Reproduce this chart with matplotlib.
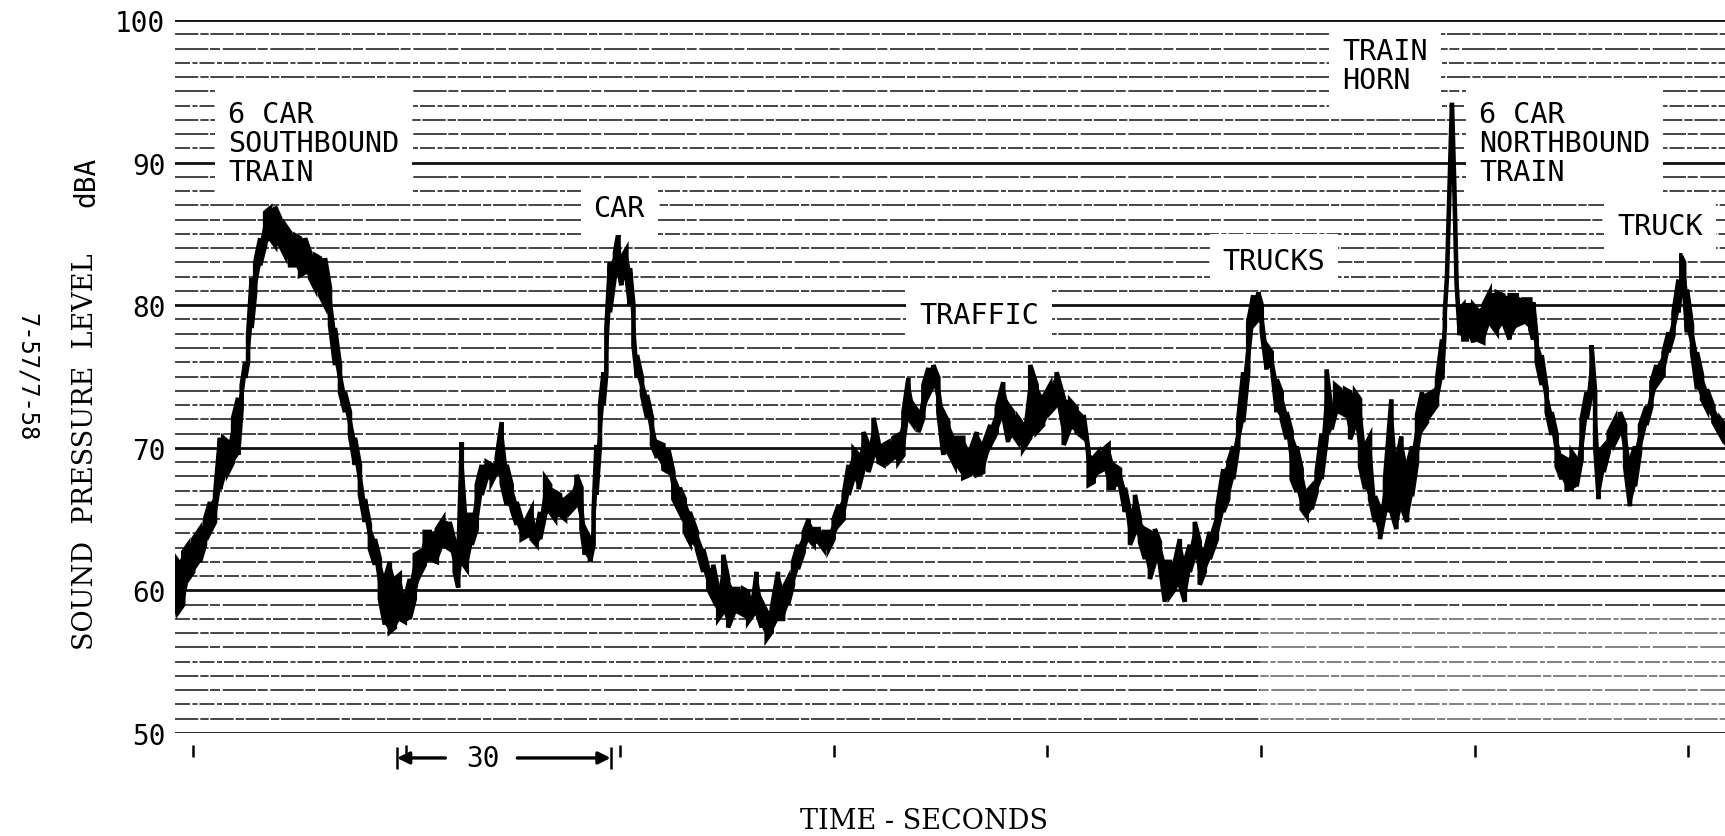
import matplotlib
matplotlib.use("Agg")
import matplotlib.pyplot as plt
import numpy as np

# ---- recorded sound level trace: time (s), lower and upper edge of the pen trace (dBA)
time_s = [
    -2.7, -2.0, -1.3, -0.6, 0.1, 1.05, 1.75, 2.45, 3.16, 3.86, 4.3, 5.0, 5.7, 6.4, 6.9,
    7.4, 7.8, 8.3, 8.8, 9.5, 10.2, 10.9, 11.6, 12.3, 13.0, 13.7, 14.4, 15.1, 15.8, 16.5,
    17.2, 17.9, 18.6, 19.3, 20.0, 20.7, 21.4, 22.1, 22.8, 23.5, 24.2, 24.9, 25.6, 26.3,
    27.0, 27.7, 28.4, 29.1, 29.8, 30.5, 31.2, 31.9, 32.6, 33.3, 34.3, 35.2, 36.1, 36.8,
    37.3, 37.8, 38.5, 39.2, 39.9, 40.6, 41.3, 42.0, 42.7, 43.4, 44.1, 44.8, 45.5, 46.2,
    46.9, 47.6, 48.3, 48.8, 49.5, 50.2, 50.9, 51.6, 52.3, 53.0, 53.9, 54.6, 55.1, 55.8,
    56.3, 56.7, 57.2, 57.7, 58.1, 58.6, 59.3, 59.8, 60.2, 60.9, 61.4, 61.9, 62.4, 63.1,
    63.8, 64.5, 65.2, 66.1, 66.8, 67.5, 68.4, 69.1, 69.8, 70.8, 71.7, 72.4, 73.1, 73.8,
    74.5, 75.2, 75.9, 76.6, 77.3, 78.0, 78.7, 79.2, 79.9, 80.6, 81.3, 82.2, 82.9, 83.6,
    84.3, 85.0, 85.8, 86.5, 87.2, 87.9, 88.6, 89.3, 90.0, 90.7, 91.4, 92.1, 92.8, 93.5,
    94.2, 94.9, 95.6, 96.3, 97.0, 97.7, 98.4, 99.1, 99.8, 100.5, 101.2, 101.9, 102.6,
    103.3, 104.0, 104.7, 105.4, 106.1, 107.0, 108.2, 109.1, 110.1, 111.0, 112.0, 112.9,
    113.8, 114.5, 115.2, 115.9, 116.6, 117.6, 118.5, 119.4, 120.4, 121.3, 122.3, 123.2,
    124.1, 125.1, 125.8, 126.5, 127.2, 127.9, 128.6, 129.3, 130.2, 130.9, 131.6, 132.3,
    133.0, 133.7, 134.4, 135.1, 135.8, 136.5, 137.2, 137.9, 138.6, 139.3, 140.0, 140.7,
    141.4, 142.1, 142.8, 143.8, 144.7, 145.4, 146.1, 146.8, 147.5, 148.2, 148.9, 149.6,
    150.1, 150.8, 151.5, 152.2, 152.9, 153.6, 154.3, 155.0, 155.7, 156.4, 157.1, 157.8,
    158.5, 159.2, 159.9, 160.4, 161.1, 161.8, 162.5, 163.2, 163.9, 164.6, 165.3, 166.0,
    166.7, 167.4, 168.3, 169.0, 169.7, 170.5, 171.2, 171.9, 172.6, 173.3, 174.0, 174.7,
    175.4, 175.8, 176.1, 176.45, 176.8, 177.15, 177.45, 177.9, 178.4, 178.9, 179.3,
    179.8, 180.3, 181.2, 182.1, 183.1, 184.0, 184.9, 185.9, 186.8, 187.8, 188.2, 188.7,
    189.4, 190.1, 190.8, 191.5, 192.2, 192.9, 193.6, 194.3, 195.0, 195.7, 196.4, 196.9,
    197.4, 198.1, 198.8, 199.7, 200.4, 201.1, 201.8, 202.5, 203.2, 204.1, 204.8, 205.5,
    206.5, 207.2, 207.9, 208.6, 209.0, 209.4, 209.8, 210.5, 211.2, 211.9, 212.6, 213.5,
    214.5, 215.1, 215.5,
]
level_lo = [
    58.3, 58.5, 59.0, 60.8, 61.3, 62.0, 63.2, 64.1, 64.8, 67.1, 67.9, 68.3, 69.0, 69.5, 72.8,
    74.9, 76.0, 78.4, 80.9, 82.8, 84.2, 84.7, 84.2, 84.2, 83.5, 82.8, 82.8, 82.1, 82.3, 81.9,
    81.2, 80.7, 80.0, 78.6, 75.8, 73.9, 72.5, 70.9, 68.8, 66.7, 64.8, 62.9, 61.8, 59.4,
    57.6, 57.1, 57.4, 58.0, 57.8, 58.0, 59.4, 61.1, 61.8, 62.2, 62.0, 63.2, 62.9, 61.3,
    60.2, 62.0, 61.5, 63.2, 64.3, 66.7, 67.9, 67.6, 68.3, 67.5, 66.0, 65.7, 64.6, 63.6,
    63.8, 63.6, 63.2, 63.6, 65.3, 65.5, 65.0, 65.3, 65.0, 65.5, 66.0, 64.3, 62.5, 62.0,
    63.2, 66.7, 70.2, 73.0, 75.3, 79.5, 82.1, 82.5, 81.4, 82.1, 80.0, 77.2, 74.9, 73.7,
    72.1, 70.2, 69.3, 68.5, 68.3, 66.4, 65.5, 64.1, 63.4, 62.9, 61.3, 60.1, 59.4, 58.0,
    58.5, 57.4, 58.3, 58.5, 58.3, 57.8, 58.3, 58.5, 57.4, 56.6, 57.1, 58.0, 58.0, 59.0,
    60.4, 61.5, 62.7, 63.6, 63.2, 63.4, 62.9, 62.9, 63.6, 64.6, 65.0, 66.7, 67.9, 67.1,
    68.5, 68.3, 69.5, 69.0, 68.8, 69.0, 69.3, 69.0, 69.5, 72.1, 71.6, 71.1, 72.1,
    73.7, 74.4, 72.5, 69.5, 69.7, 68.8, 67.9, 68.1, 68.1, 68.3, 70.2, 71.1,
    72.3, 70.4, 70.9, 70.4, 69.9, 70.7, 71.1, 71.6, 72.5, 73.0, 70.2, 71.4,
    71.1, 70.7, 67.4, 67.6, 68.3, 68.5, 67.2, 67.2, 67.4, 65.5, 63.2, 64.1,
    63.4, 62.2, 60.8, 62.0, 61.8, 59.2, 59.6, 60.1, 60.4, 59.2, 61.3, 62.5,
    60.4, 61.3, 62.2, 63.6, 65.5, 66.4, 67.8, 70.1, 71.8, 75.3, 78.6, 79.0,
    78.1, 75.5, 75.8, 72.5, 72.0, 70.6, 67.8, 66.9, 65.7, 65.2, 65.7, 66.9,
    67.8, 70.6, 71.3, 72.3, 72.5, 72.3, 70.6, 71.6, 68.7, 67.1, 66.4, 64.8,
    63.6, 65.5, 65.5, 64.3, 65.9, 64.8, 66.6, 69.0, 71.3, 71.8, 72.5, 73.0,
    74.8, 78.5, 82.0, 88.0, 94.2, 88.0, 81.5, 77.9, 77.6, 77.6, 78.1,
    77.4, 77.6, 77.4, 78.8, 78.1, 78.8, 77.6, 78.6, 78.8, 78.3, 77.6, 76.0,
    74.4, 72.5, 70.9, 68.7, 67.8, 67.1, 67.1, 67.3, 69.2, 72.0, 73.9, 70.1,
    66.4, 68.3, 69.7, 70.4, 71.1, 68.7, 65.9, 67.3, 69.7, 71.6, 72.9, 74.4,
    75.1, 76.7, 77.9, 79.5, 81.5, 81.0, 78.1, 76.7, 74.1, 73.4, 72.7, 71.8,
    70.9, 70.4, 70.2,
]
level_hi = [
    62.5, 62.0, 62.7, 63.2, 63.6, 64.3, 65.0, 66.2, 66.7, 70.7, 70.7, 70.4, 72.1, 73.5, 74.4,
    76.0, 77.9, 81.9, 83.0, 84.7, 86.5, 86.8, 86.9, 86.1, 85.6, 85.1, 84.9, 84.7, 84.7, 83.7,
    83.5, 83.3, 83.3, 81.2, 78.4, 75.8, 73.9, 72.5, 70.7, 68.8, 66.4, 64.6, 63.6, 62.2,
    60.8, 62.0, 60.8, 61.1, 59.4, 60.8, 62.5, 62.7, 64.1, 64.1, 64.3, 65.0, 64.8, 63.4,
    62.0, 70.4, 65.3, 65.3, 67.4, 68.8, 69.0, 68.8, 69.3, 71.8, 68.8, 67.4, 66.2, 65.0,
    65.0, 65.7, 64.3, 65.5, 67.9, 67.4, 66.9, 66.7, 66.4, 66.7, 68.1, 67.2, 64.3, 63.6,
    65.5, 70.2, 73.0, 75.3, 78.4, 83.0, 83.7, 85.1, 83.3, 83.9, 82.6, 80.0, 76.5, 74.9,
    73.7, 72.1, 70.4, 70.2, 69.9, 68.3, 67.2, 66.4, 65.5, 64.1, 62.9, 61.5, 61.8, 60.1,
    62.5, 60.8, 60.1, 60.1, 60.1, 59.9, 59.4, 61.3, 59.2, 58.5, 58.7, 61.3, 60.1, 60.8,
    62.0, 63.2, 64.1, 65.0, 64.3, 64.3, 64.1, 64.1, 65.0, 66.0, 66.7, 68.8, 69.9, 69.5,
    71.1, 70.2, 72.1, 70.4, 70.2, 70.4, 70.7, 70.9, 72.5, 74.9, 73.0, 72.5, 74.4,
    75.6, 75.8, 74.9, 72.5, 71.8, 70.7, 70.7, 69.7, 71.1, 70.2, 71.6, 72.8,
    74.6, 73.0, 72.5, 72.1, 71.6, 75.8, 74.4, 73.5, 74.4, 75.3, 73.5, 73.3,
    72.8, 72.3, 69.7, 69.3, 69.7, 69.9, 70.2, 68.8, 68.5, 67.2, 65.5, 66.7,
    65.0, 64.3, 64.1, 64.3, 63.4, 62.0, 62.0, 62.0, 63.6, 62.0, 63.2, 64.8,
    63.4, 62.7, 64.1, 65.7, 68.5, 69.0, 70.1, 72.0, 75.3, 78.8, 80.7, 80.9,
    80.0, 77.2, 76.7, 74.8, 73.9, 72.5, 71.1, 70.1, 68.5, 66.9, 67.3, 68.3,
    71.0, 75.5, 72.5, 74.4, 74.1, 74.1, 73.9, 73.9, 73.4, 70.1, 70.8, 66.6,
    65.7, 67.8, 73.4, 69.0, 70.8, 68.7, 70.1, 72.3, 73.9, 73.7, 73.9, 74.8,
    77.6, 79.5, 82.0, 88.0, 94.2, 88.0, 81.5, 79.7, 80.0, 80.0, 80.0,
    80.0, 79.7, 80.0, 80.9, 80.9, 80.7, 80.7, 80.7, 80.4, 80.4, 80.2, 77.6,
    76.5, 74.1, 72.5, 70.9, 69.4, 69.2, 69.7, 69.2, 72.0, 73.9, 77.2, 73.9,
    69.7, 70.1, 71.1, 72.0, 72.5, 71.6, 69.0, 70.1, 71.6, 72.9, 74.6, 75.8,
    76.7, 78.1, 79.5, 81.8, 83.4, 83.0, 81.1, 78.6, 76.7, 75.1, 74.1, 72.9,
    72.0, 71.6, 71.4,
]

# ---- axis values and annotations
y_ticks = [50, 60, 70, 80, 90, 100]
time_marks = [0, 30, 60, 90, 120, 150, 180, 210]
span_start, span_len = 28.7, 30
events = [
    ("6 CAR\nSOUTHBOUND\nTRAIN", 5.0, 91.4, "left"),
    ("CAR", 59.9, 86.8, "center"),
    ("TRAFFIC", 110.4, 79.3, "center"),
    ("TRUCKS", 151.8, 83.1, "center"),
    ("TRAIN\nHORN", 161.4, 96.8, "left"),
    ("6 CAR\nNORTHBOUND\nTRAIN", 180.6, 91.4, "left"),
    ("TRUCK", 206.0, 85.55, "center"),
]

W, H = 1725, 837
fig = plt.figure(figsize=(W / 100, H / 100), dpi=100)
ax = fig.add_axes([175 / W, 1 - 734 / H, 1550 / W, 713 / H])
ax.set_xlim(-2.46, 215.13)
ax.set_ylim(50, 100)
for s in ax.spines.values():
    s.set_visible(False)

# chart paper rulings, one per dB
dash_styles = [(0, (14, 1.2, 5, 1.0)), (0, (9, 1.5, 3, 1.2)), (0, (20, 1.0, 6, 1.6))]
for v in range(50, 101):
    if v % 10 == 0:
        ax.axhline(v, color="#111111", lw=2.0, zorder=1)
    else:
        ax.axhline(v, color="#262626", lw=1.2, ls=dash_styles[v % 3], zorder=1)

# worn, lightly printed rulings in the lower right of the sheet
ax.axhspan(50.5, 58.6, xmin=0.70, xmax=1.0, facecolor="white", alpha=0.33,
           lw=0, zorder=2)

# pen trace
t = np.array(time_s)
lo = np.array(level_lo)
hi = np.array(level_hi)
ax.fill_between(t, lo, hi, color="black", lw=0, zorder=3)
zx = np.repeat(t, 2)
zy = np.empty(2 * len(t))
zy[0::4] = lo[0::2]
zy[1::4] = hi[0::2]
zy[2::4] = hi[1::2]
zy[3::4] = lo[1::2]
ax.plot(zx, zy, color="black", lw=3.3, solid_joinstyle="miter", zorder=3)

# labels for events
mono = "DejaVu Sans Mono"
for txt, x, y, ha in events:
    ax.text(x, y, txt, ha=ha, va="center", family=mono, fontsize=20.5,
            linespacing=1.05, zorder=4,
            bbox=dict(facecolor="white", edgecolor="none", boxstyle="square,pad=0.45"))

# y ticks
ax.set_yticks(y_ticks)
ax.set_yticklabels([str(v) for v in y_ticks], family=mono, fontsize=20)
ax.tick_params(axis="y", length=0, pad=7)
ax.set_xticks([])

# time marks below the chart
xt = ax.get_xaxis_transform()
ax.vlines(time_marks, -0.033, -0.017, transform=xt, color="black", lw=1.8, clip_on=False)

# 30 second span marker
ax.vlines([span_start, span_start + span_len], -0.05, -0.02, transform=xt,
          color="black", lw=1.8, clip_on=False)
ax.annotate("", xy=(span_start, -0.035), xytext=(span_start + 6.8, -0.035), xycoords=xt,
            textcoords=xt, arrowprops=dict(arrowstyle="-|>", lw=2.4, color="black",
                                           mutation_scale=18, shrinkA=0, shrinkB=0))
ax.annotate("", xy=(span_start + span_len, -0.035), xytext=(span_start + 16.9, -0.035),
            xycoords=xt, textcoords=xt,
            arrowprops=dict(arrowstyle="-|>", lw=2.4, color="black",
                            mutation_scale=18, shrinkA=0, shrinkB=0))
ax.text(span_start + 12.1, -0.035, str(span_len), transform=xt, ha="center", va="center",
        family=mono, fontsize=20)

# axis titles
serif = "DejaVu Serif"
fig.text(924 / W, 1 - 822 / H, "TIME - SECONDS", ha="center", va="center",
         family=serif, fontsize=19.5)
fig.text(86 / W, 1 - 452 / H, "SOUND  PRESSURE  LEVEL", rotation=90, ha="center",
         va="center", family=serif, fontsize=19.5)
fig.text(86 / W, 1 - 182 / H, "dBA", rotation=90, ha="center", va="center",
         family=mono, fontsize=20)
fig.text(27 / W, 1 - 377 / H, "7-57/7-58", rotation=270, ha="center", va="center",
         family=mono, fontsize=17)

fig.savefig("out.png", dpi=100, facecolor="white")
